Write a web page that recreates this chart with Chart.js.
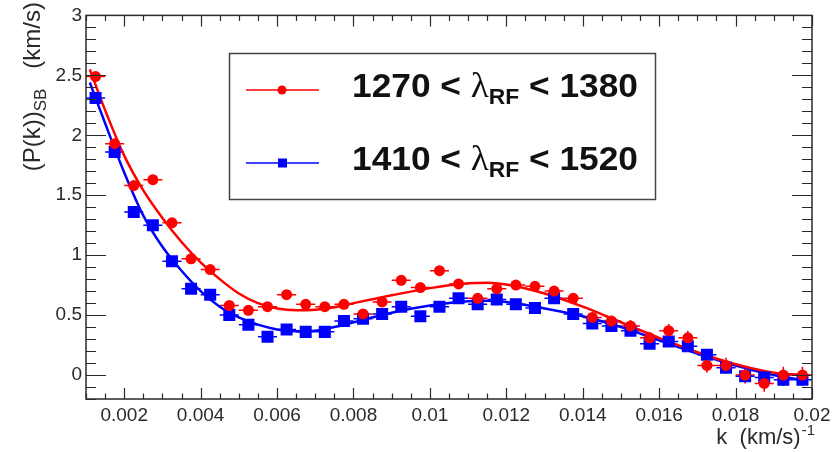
<!DOCTYPE html>
<html>
<head>
<meta charset="utf-8">
<script src="https://cdn.jsdelivr.net/npm/chart.js@4.4.1/dist/chart.umd.min.js"></script>
<style>
  html, body { margin: 0; padding: 0; background: #fff; }
  #wrap { width: 836px; height: 452px; position: relative; }
</style>
</head>
<body>
<div id="wrap"><canvas id="pk" width="836" height="452"></canvas></div>
<script>
// --- data ---
const kBins = [0.00125, 0.00175, 0.00225, 0.00275, 0.00325, 0.00375, 0.00425, 0.00475, 0.00525, 0.00575,
               0.00625, 0.00675, 0.00725, 0.00775, 0.00825, 0.00875, 0.00925, 0.00975, 0.01025, 0.01075,
               0.01125, 0.01175, 0.01225, 0.01275, 0.01325, 0.01375, 0.01425, 0.01475, 0.01525, 0.01575,
               0.01625, 0.01675, 0.01725, 0.01775, 0.01825, 0.01875, 0.01925, 0.01975];
const kHalfWidth = 0.00025;

const redVals = [2.49, 1.93, 1.58, 1.63, 1.27, 0.97, 0.88, 0.58, 0.54, 0.57,
                 0.67, 0.59, 0.57, 0.59, 0.51, 0.61, 0.79, 0.73, 0.87, 0.76,
                 0.64, 0.72, 0.75, 0.74, 0.70, 0.64, 0.48, 0.45, 0.41, 0.31,
                 0.37, 0.31, 0.08, 0.08, 0.00, -0.07, 0.00, 0.00];
const redErr = [0.03, 0.03, 0.03, 0.03, 0.03, 0.03, 0.03, 0.03, 0.03, 0.03,
                0.03, 0.03, 0.03, 0.03, 0.03, 0.03, 0.03, 0.03, 0.03, 0.035,
                0.035, 0.035, 0.035, 0.04, 0.04, 0.04, 0.045, 0.045, 0.05, 0.05,
                0.055, 0.06, 0.06, 0.065, 0.07, 0.07, 0.07, 0.07];

const blueVals = [2.31, 1.86, 1.36, 1.25, 0.95, 0.72, 0.67, 0.50, 0.42, 0.32,
                  0.38, 0.36, 0.36, 0.45, 0.47, 0.51, 0.57, 0.49, 0.57, 0.64,
                  0.59, 0.63, 0.59, 0.56, 0.64, 0.51, 0.43, 0.41, 0.37, 0.26,
                  0.28, 0.24, 0.17, 0.06, -0.01, -0.02, -0.04, -0.04];
const blueErr = [0.025, 0.025, 0.025, 0.025, 0.025, 0.025, 0.025, 0.025, 0.025, 0.025,
                 0.025, 0.025, 0.025, 0.025, 0.025, 0.025, 0.025, 0.025, 0.03, 0.03,
                 0.03, 0.03, 0.03, 0.03, 0.035, 0.035, 0.035, 0.035, 0.04, 0.04,
                 0.04, 0.045, 0.045, 0.045, 0.05, 0.05, 0.05, 0.05];

// fitted curves
const fitK = [0.0011, 0.0015, 0.002, 0.0025, 0.003, 0.0035, 0.004, 0.0045, 0.005, 0.0055,
              0.006, 0.0065, 0.007, 0.0075, 0.008, 0.009, 0.010, 0.011, 0.0115, 0.012,
              0.013, 0.014, 0.015, 0.016, 0.017, 0.018, 0.019, 0.0197];
const redFit = [2.55, 2.21, 1.83, 1.54, 1.31, 1.11, 0.94, 0.80, 0.68, 0.60,
                0.555, 0.54, 0.545, 0.565, 0.60, 0.665, 0.725, 0.765, 0.77, 0.755,
                0.68, 0.57, 0.44, 0.31, 0.19, 0.09, 0.02, 0.0];
const blueFit = [2.44, 2.10, 1.69, 1.33, 1.07, 0.87, 0.70, 0.57, 0.48, 0.42,
                 0.38, 0.365, 0.37, 0.40, 0.44, 0.52, 0.58, 0.615, 0.62, 0.61,
                 0.555, 0.49, 0.40, 0.29, 0.18, 0.08, 0.0, -0.04];

const xTicks = [0.002, 0.004, 0.006, 0.008, 0.01, 0.012, 0.014, 0.016, 0.018, 0.02];
const yTicks = [0, 0.5, 1, 1.5, 2, 2.5, 3];

const seriesNames = [['1270', '1380'], ['1410', '1520']];

const RED = '#ff0000';
const BLUE = '#0000ff';
const INK = '#2a2a2a';

// ROOT-like frame: error bars, inward ticks on all sides, legend box, axis titles
const rootFrame = {
    id: 'rootFrame',
    beforeDatasetsDraw(chart) {
        const ctx = chart.ctx, xs = chart.scales.x, ys = chart.scales.y;
        const sets = [[redVals, redErr, RED], [blueVals, blueErr, BLUE]];
        ctx.save();
        ctx.lineWidth = 1.5;
        sets.forEach(([vals, errs, col]) => {
            ctx.strokeStyle = col;
            kBins.forEach((k, i) => {
                const px = xs.getPixelForValue(k), py = ys.getPixelForValue(vals[i]);
                ctx.beginPath();
                ctx.moveTo(xs.getPixelForValue(k - kHalfWidth), py);
                ctx.lineTo(xs.getPixelForValue(k + kHalfWidth), py);
                ctx.moveTo(px, ys.getPixelForValue(vals[i] - errs[i]));
                ctx.lineTo(px, ys.getPixelForValue(vals[i] + errs[i]));
                ctx.stroke();
            });
        });
        ctx.restore();
    },
    afterDatasetsDraw(chart) {
        const ctx = chart.ctx, a = chart.chartArea, xs = chart.scales.x, ys = chart.scales.y;
        ctx.save();
        ctx.strokeStyle = INK;
        ctx.lineWidth = 1.5;
        ctx.strokeRect(a.left, a.top, a.right - a.left, a.bottom - a.top);

        ctx.lineWidth = 1.2;
        ctx.beginPath();
        // x ticks every 0.0005, major every 0.002
        for (let i = 2; i <= 40; i++) {
            const px = Math.round(xs.getPixelForValue(i * 0.0005)) + 0.5;
            const len = (i % 4 === 0) ? 11 : 5.5;
            ctx.moveTo(px, a.bottom); ctx.lineTo(px, a.bottom - len);
            ctx.moveTo(px, a.top); ctx.lineTo(px, a.top + len);
        }
        // y ticks every 0.1, major every 0.5
        for (let i = -2; i <= 30; i++) {
            const py = Math.round(ys.getPixelForValue(i / 10)) + 0.5;
            const len = (i % 5 === 0) ? 20 : 10;
            ctx.moveTo(a.left, py); ctx.lineTo(a.left + len, py);
            ctx.moveTo(a.right, py); ctx.lineTo(a.right - len, py);
        }
        ctx.stroke();
        ctx.restore();
    },
    afterDraw(chart) {
        const ctx = chart.ctx;
        ctx.save();
        ctx.fillStyle = INK;

        // y title, rotated, flush to the top
        const big = '24px "Liberation Sans", Arial, sans-serif';
        const sub = '17px "Liberation Sans", Arial, sans-serif';
        ctx.font = big; const w1 = ctx.measureText('(P(k))').width;
        ctx.font = sub; const w2 = ctx.measureText('SB').width;
        ctx.font = big; const w3 = ctx.measureText('   (km/s)').width;
        ctx.save();
        ctx.translate(40, 2 + w1 + w2 + w3);
        ctx.rotate(-Math.PI / 2);
        ctx.font = big; ctx.fillText('(P(k))', 0, 0);
        ctx.font = sub; ctx.fillText('SB', w1, 6);
        ctx.font = big; ctx.fillText('   (km/s)', w1 + w2, 0);
        ctx.restore();

        // x title, flush right
        ctx.font = '15px "Liberation Sans", Arial, sans-serif';
        const supW = ctx.measureText('-1').width;
        ctx.textAlign = 'right';
        ctx.fillText('-1', 815, 435);
        ctx.font = '22px "Liberation Sans", Arial, sans-serif';
        ctx.fillText('k  (km/s)', 814 - supW, 444);
        ctx.textAlign = 'left';

        // legend
        ctx.strokeStyle = '#444';
        ctx.lineWidth = 1.5;
        ctx.strokeRect(229.5, 53.5, 426, 146);
        drawEntry(ctx, 90, RED, 'circle', seriesNames[0]);
        drawEntry(ctx, 163, BLUE, 'rect', seriesNames[1]);
        ctx.restore();
    }
};

function drawEntry(ctx, y, col, shape, names) {
    ctx.save();
    ctx.strokeStyle = col;
    ctx.fillStyle = col;
    ctx.lineWidth = 1.5;
    ctx.beginPath();
    ctx.moveTo(246, y); ctx.lineTo(319, y);
    ctx.stroke();
    if (shape === 'circle') {
        ctx.beginPath(); ctx.arc(282, y, 4.5, 0, Math.PI * 2); ctx.fill();
    } else {
        ctx.fillRect(278, y - 4.5, 9, 9);
    }

    const main = 'bold 34px "Liberation Sans", Arial, sans-serif';
    const lam = '36px "Liberation Serif", "Times New Roman", serif';
    const subF = 'bold 22px "Liberation Sans", Arial, sans-serif';
    const parts = [[names[0] + ' < ', main, 0], ['\u03bb', lam, 0], ['RF', subF, 7], [' < ' + names[1], main, 0]];
    let total = 0;
    parts.forEach(p => { ctx.font = p[1]; total += ctx.measureText(p[0]).width; });
    const sx = 286 / total;
    ctx.translate(352, y + 7);
    ctx.scale(sx, 1);
    ctx.fillStyle = '#111';
    let x = 0;
    parts.forEach(p => {
        ctx.font = p[1];
        ctx.fillText(p[0], x, p[2]);
        x += ctx.measureText(p[0]).width;
    });
    ctx.restore();
}

const tickFont = { family: '"Liberation Sans", Arial, sans-serif', size: 19 };

new Chart(document.getElementById('pk').getContext('2d'), {
    type: 'scatter',
    data: {
        datasets: [
            { data: kBins.map((k, i) => ({ x: k, y: redVals[i] })), pointStyle: 'circle', pointRadius: 5.5,
              backgroundColor: RED, borderColor: RED, borderWidth: 0, order: 0 },
            { data: kBins.map((k, i) => ({ x: k, y: blueVals[i] })), pointStyle: 'rect', pointRadius: 8.5,
              backgroundColor: BLUE, borderColor: BLUE, borderWidth: 0, order: 0 },
            { data: fitK.map((k, i) => ({ x: k, y: redFit[i] })), showLine: true, pointRadius: 0,
              borderColor: RED, borderWidth: 2.5, cubicInterpolationMode: 'monotone', order: 1 },
            { data: fitK.map((k, i) => ({ x: k, y: blueFit[i] })), showLine: true, pointRadius: 0,
              borderColor: BLUE, borderWidth: 2.5, cubicInterpolationMode: 'monotone', order: 1 }
        ]
    },
    options: {
        responsive: false,
        animation: false,
        devicePixelRatio: 1,
        layout: { padding: { top: 13, right: 24, left: 0, bottom: 0 } },
        plugins: { legend: { display: false }, tooltip: { enabled: false } },
        scales: {
            x: {
                type: 'linear', min: 0.001, max: 0.02,
                grid: { display: false, drawTicks: false }, border: { display: false },
                afterBuildTicks: s => { s.ticks = xTicks.map(v => ({ value: v })); },
                afterFit: s => { s.height = 53; },
                ticks: { autoSkip: false, maxRotation: 0, padding: 5, color: INK, font: tickFont,
                         callback: v => String(v) }
            },
            y: {
                type: 'linear', min: -0.2, max: 3,
                grid: { display: false, drawTicks: false }, border: { display: false },
                afterBuildTicks: s => { s.ticks = yTicks.map(v => ({ value: v })); },
                afterFit: s => { s.width = 86; },
                ticks: { autoSkip: false, padding: 4, color: INK, font: tickFont,
                         callback: v => String(v) }
            }
        }
    },
    plugins: [rootFrame]
});
</script>
</body>
</html>
